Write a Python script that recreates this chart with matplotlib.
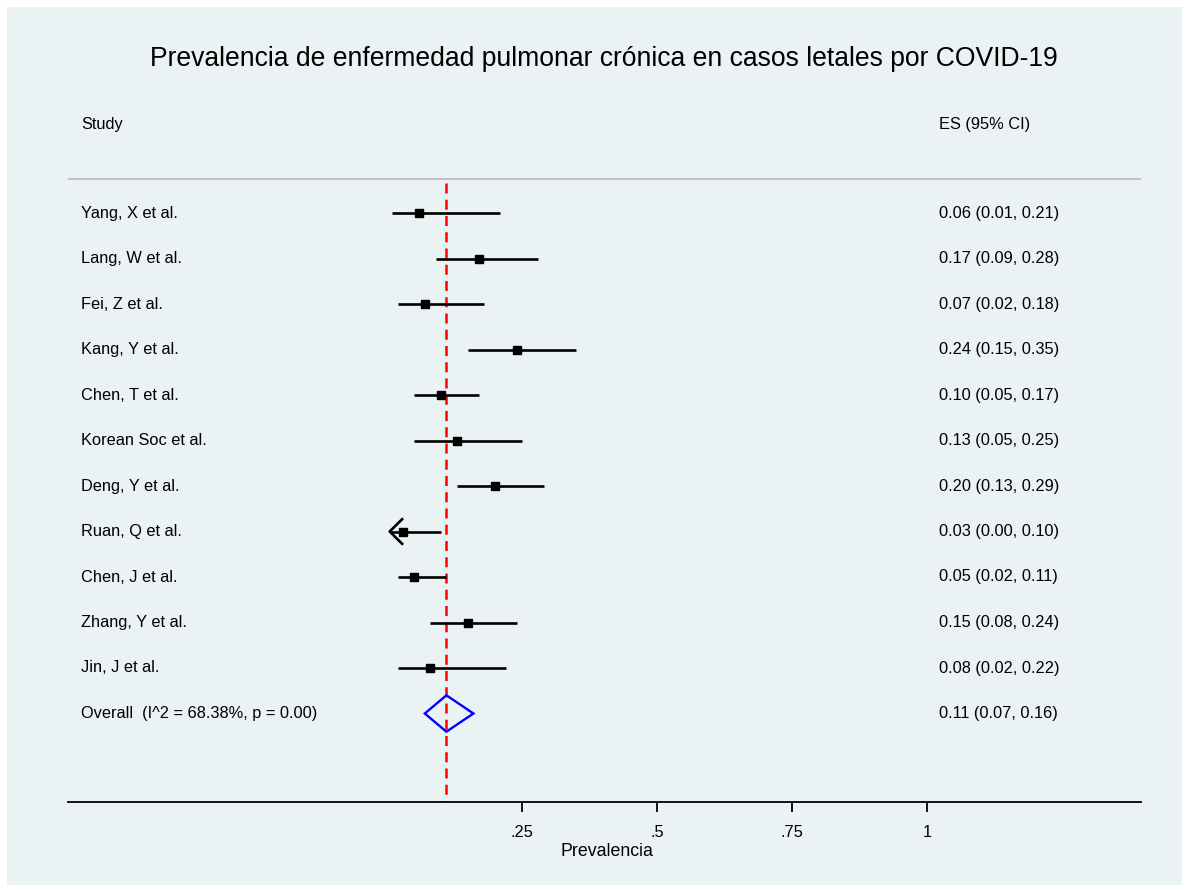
import numpy as np
import matplotlib
matplotlib.use("Agg")
import matplotlib.pyplot as plt
from matplotlib.patches import Rectangle, Polygon

plt.rcParams['font.family'] = ['Liberation Sans', 'DejaVu Sans']

# data
studies = ["Yang, X et al.", "Lang, W et al.", "Fei, Z et al.", "Kang, Y et al.",
           "Chen, T et al.", "Korean Soc et al.", "Deng, Y et al.", "Ruan, Q et al.",
           "Chen, J et al.", "Zhang, Y et al.", "Jin, J et al."]
es = [0.06, 0.17, 0.07, 0.24, 0.10, 0.13, 0.20, 0.03, 0.05, 0.15, 0.08]
lo = [0.01, 0.09, 0.02, 0.15, 0.05, 0.05, 0.13, 0.00, 0.02, 0.08, 0.02]
hi = [0.21, 0.28, 0.18, 0.35, 0.17, 0.25, 0.29, 0.10, 0.11, 0.24, 0.22]
overall_label = "Overall  (I^2 = 68.38%, p = 0.00)"
overall_es, overall_lo, overall_hi = 0.11, 0.07, 0.16
ticks = [0.25, 0.5, 0.75, 1.0]
tick_labels = [".25", ".5", ".75", "1"]

W, H = 1189, 892
fig = plt.figure(figsize=(W / 100, H / 100), dpi=100)
fig.patch.set_facecolor("white")
fig.patches.append(Rectangle((7 / W, 7 / H), (W - 14) / W, (H - 14) / H,
                             transform=fig.transFigure, facecolor="#EAF2F3",
                             edgecolor="none", zorder=-5))

# axes placement in pixels
ax_l, ax_r, ax_b, ax_t = 68, 1141, 802, 20
ax = fig.add_axes([ax_l / W, 1 - ax_b / H, (ax_r - ax_l) / W, (ax_b - ax_t) / H])
ax.set_facecolor("none")

x0_px, px_per_unit = 387, 540
row0_px, row_step = 213, 45.5
ax.set_xlim((ax_l - x0_px) / px_per_unit, (ax_r - x0_px) / px_per_unit)
ax.set_ylim((ax_b - row0_px) / row_step, (ax_t - row0_px) / row_step)

fs = 11.8
xmin_show = 0.005
n = len(studies)
lab_x = (81 - x0_px) / px_per_unit
es_x = (939 - x0_px) / px_per_unit
for i in range(n):
    left = max(lo[i], xmin_show)
    ax.plot([left, hi[i]], [i, i], color="black", lw=1.9, solid_capstyle="butt", zorder=3)
    ax.plot(es[i], i, marker="s", ms=6.3, color="black", zorder=4)
    if lo[i] < xmin_show:
        ax.plot([left + 0.023, left, left + 0.023], [i - 0.27, i, i + 0.27],
                color="black", lw=1.9, zorder=3)
    ax.text(lab_x, i, studies[i], ha="left", va="center", fontsize=fs)
    ax.text(es_x, i, f"{es[i]:.2f} ({lo[i]:.2f}, {hi[i]:.2f})",
            ha="left", va="center", fontsize=fs)

# overall
yo = n
diamond = Polygon([[overall_lo, yo], [overall_es, yo - 0.4], [overall_hi, yo],
                   [overall_es, yo + 0.4]], closed=True, fill=False,
                  edgecolor="blue", lw=1.7, zorder=4)
ax.add_patch(diamond)
ax.text(lab_x, yo, overall_label, ha="left", va="center", fontsize=fs)
ax.text(es_x, yo, f"{overall_es:.2f} ({overall_lo:.2f}, {overall_hi:.2f})",
        ha="left", va="center", fontsize=fs)

# red dashed overall line
grey_y = (179 - row0_px) / row_step
ax.plot([overall_es, overall_es], [grey_y + 0.08, (ax_b - row0_px) / row_step],
        color="red", lw=1.8, ls=(0, (4, 2.5)), zorder=2)

# header
hdr_y = (124 - row0_px) / row_step
ax.text(lab_x, hdr_y, "Study", ha="left", va="center", fontsize=fs)
ax.text(es_x, hdr_y, "ES (95% CI)", ha="left", va="center", fontsize=fs)
ax.axhline(grey_y, color="#C0C0C0", lw=1.4)

# axis styling
for s in ["left", "right", "top"]:
    ax.spines[s].set_visible(False)
ax.spines["bottom"].set_linewidth(1.3)
ax.set_yticks([])
ax.set_xticks(ticks)
ax.set_xticklabels(tick_labels, fontsize=fs)
ax.tick_params(axis="x", length=7.5, width=1.3, pad=9)
ax.set_xlabel("Prevalencia", fontsize=12.8)
xl = ax.get_xlim()
ax.xaxis.set_label_coords(((607 - x0_px) / px_per_unit - xl[0]) / (xl[1] - xl[0]),
                          -(852 - ax_b) / (ax_b - ax_t))
ax.xaxis.label.set_va("center")

fig.text(((ax_l + ax_r) / 2 - 1) / W, 1 - 66 / H,
         "Prevalencia de enfermedad pulmonar crónica en casos letales por COVID-19",
         fontsize=19.1, ha="center", va="baseline")

fig.savefig("out.png", dpi=100, facecolor=fig.get_facecolor())
